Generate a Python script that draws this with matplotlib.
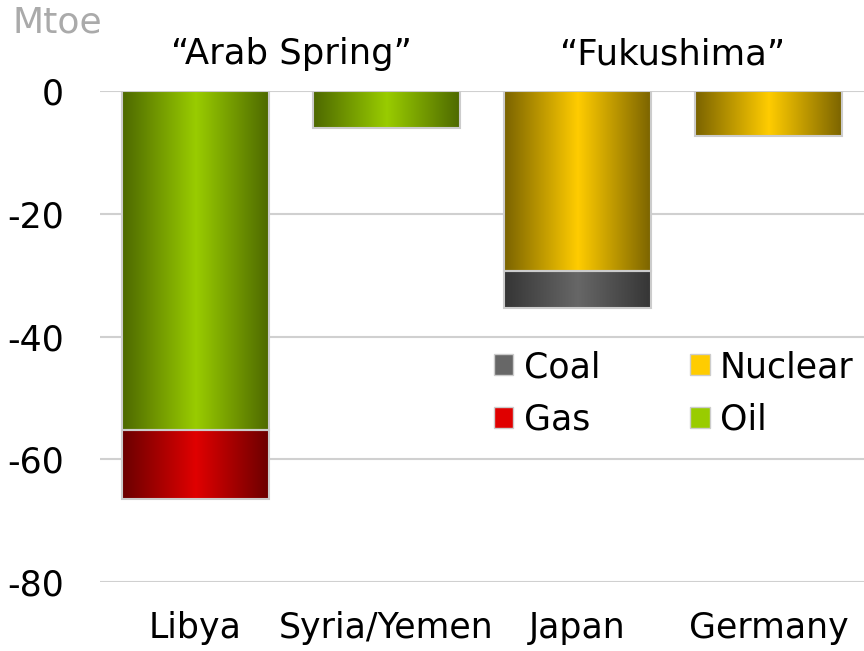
import numpy as np
import matplotlib.pyplot as plt
from matplotlib.colors import LinearSegmentedColormap
from matplotlib.patches import Patch

plt.rcParams['font.family'] = ['DejaVu Sans']
plt.rcParams['axes.unicode_minus'] = False

countries = ['Libya', 'Syria/Yemen', 'Japan', 'Germany']
oil = [-55.2, -6.0, 0, 0]
gas = [-11.2, 0, 0, 0]
nuclear = [0, 0, -29.3, -7.3]
coal = [0, 0, -6.0, 0]

colors = {
    'Coal': ('#353535', '#676767'),
    'Gas': ('#6a0000', '#e00000'),
    'Nuclear': ('#7a6300', '#ffcc00'),
    'Oil': ('#4d6800', '#99cc00'),
}

fig = plt.figure(figsize=(8.64, 6.51), dpi=100)
ax = fig.add_axes([0.1157, 0.106, 0.8843, 0.754])

x = np.arange(len(countries))
width = 0.77

def grad_bar(xc, bottom, height, name):
    if height == 0:
        return
    dark, bright = colors[name]
    cmap = LinearSegmentedColormap.from_list(name, [dark, bright, dark])
    bar = ax.bar(xc, height, width, bottom=bottom, color='none',
                 edgecolor='#cccccc', linewidth=1.5, zorder=3)[0]
    g = np.linspace(0, 1, 256).reshape(1, -1)
    im = ax.imshow(g, cmap=cmap, aspect='auto', zorder=2,
                   extent=[xc - width / 2, xc + width / 2, bottom + height, bottom])
    im.set_clip_path(bar)

for i in x:
    grad_bar(i, 0, oil[i], 'Oil')
    grad_bar(i, oil[i], gas[i], 'Gas')
    grad_bar(i, 0, nuclear[i], 'Nuclear')
    grad_bar(i, nuclear[i], coal[i], 'Coal')

ax.set_xlim(-0.5, 3.5)
ax.set_ylim(-80, 0)
ax.set_yticks([0, -20, -40, -60, -80])
ax.yaxis.grid(True, color='#d0d0d0', linewidth=1.5, zorder=0)
ax.set_axisbelow(True)
for s in ax.spines.values():
    s.set_visible(False)
ax.tick_params(length=0, labelsize=25)
ax.tick_params(axis='y', pad=26)
ax.tick_params(axis='x', pad=21)
ax.set_xticks(x)
ax.set_xticklabels(countries)

ax.text(0.5, 6.0, '\u201cArab Spring\u201d', ha='center', va='center', fontsize=25.5, clip_on=False)
ax.text(2.5, 6.0, '\u201cFukushima\u201d', ha='center', va='center', fontsize=25.5, clip_on=False)
fig.text(0.014, 0.966, 'Mtoe', color='#aaaaaa', fontsize=26, ha='left', va='center')

handles = [Patch(facecolor=colors[k][1], edgecolor='#cccccc', label=k)
           for k in ['Coal', 'Gas', 'Nuclear', 'Oil']]
ax.legend(handles=handles, ncol=2, frameon=False, fontsize=25,
          loc='upper left', bbox_to_anchor=(0.572, 0.462), bbox_transform=fig.transFigure,
          handlelength=0.55, handleheight=0.55, handletextpad=0.3,
          columnspacing=2.6, labelspacing=0.53, borderpad=0, borderaxespad=0)

fig.savefig('out.png', dpi=100)
